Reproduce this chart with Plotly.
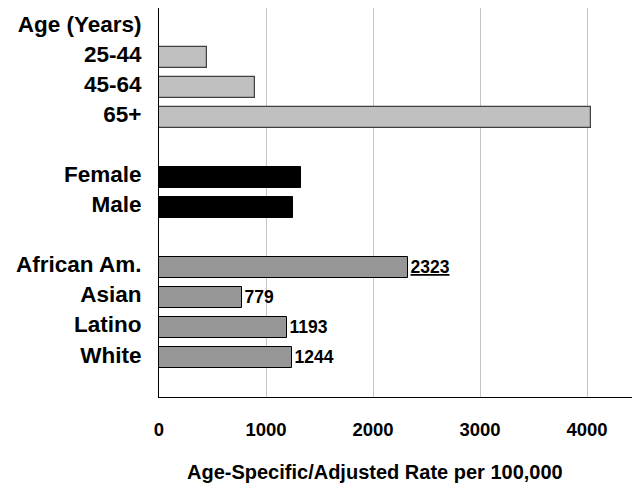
import plotly.graph_objects as go

# Row labels, top to bottom; empty strings are spacer rows
row_labels = ["Age (Years)", "25-44", "45-64", "65+", "",
              "Female", "Male", "",
              "African Am.", "Asian", "Latino", "White"]

age_groups = ["25-44", "45-64", "65+"]
age_rates = [450, 900, 4040]

sex_groups = ["Female", "Male"]
sex_rates = [1330, 1252]

race_groups = ["African Am.", "Asian", "Latino", "White"]
race_rates = [2323, 779, 1193, 1244]
race_text = ["<u>2323</u>", "779", "1193", "1244"]

x_ticks = [0, 1000, 2000, 3000, 4000]

FONT = "Liberation Sans, Arial, sans-serif"


def rows_of(names):
    return [row_labels.index(n) for n in names]


fig = go.Figure()

fig.add_trace(go.Bar(
    orientation="h", y=rows_of(age_groups), x=age_rates, width=0.7,
    marker=dict(color="#C0C0C0", line=dict(color="#404040", width=1.2)),
    showlegend=False, hoverinfo="x",
))
fig.add_trace(go.Bar(
    orientation="h", y=rows_of(sex_groups), x=sex_rates, width=0.7,
    marker=dict(color="#000000", line=dict(color="#000000", width=1)),
    showlegend=False, hoverinfo="x",
))
fig.add_trace(go.Bar(
    orientation="h", y=rows_of(race_groups), x=race_rates, width=0.7,
    marker=dict(color="#969696", line=dict(color="#000000", width=1)),
    text=race_text, textposition="outside", constraintext="none",
    textfont=dict(family=FONT, size=17.5, color="#000000", weight="bold"),
    cliponaxis=False, showlegend=False, hoverinfo="x",
))

# row labels sit slightly above the centre of their bars
label_rows = [i for i, t in enumerate(row_labels) if t]
label_lift = 0.11

fig.update_layout(
    width=632, height=485,
    margin=dict(l=159, r=0, t=8, b=88),
    paper_bgcolor="#FFFFFF", plot_bgcolor="#FFFFFF",
    font=dict(family=FONT, color="#000000"),
    bargap=0,
    xaxis=dict(
        range=[0, 4420], tickvals=x_ticks, ticktext=[str(v) for v in x_ticks],
        showgrid=True, gridcolor="#C4C4C4", gridwidth=1,
        zeroline=False, showline=True, linecolor="#000000", linewidth=1,
        ticks="", ticklabelstandoff=16,
        tickfont=dict(family=FONT, size=18.5, color="#000000", weight="bold"),
    ),
    yaxis=dict(
        range=[12.3, -0.65], tickvals=[i - label_lift for i in label_rows],
        ticktext=[row_labels[i] for i in label_rows],
        showgrid=False, zeroline=False, showline=True,
        linecolor="#000000", linewidth=1,
        ticks="", ticklabelstandoff=12,
        tickfont=dict(family=FONT, size=22.5, color="#000000", weight="bold"),
    ),
    annotations=[dict(
        text="Age-Specific/Adjusted Rate per 100,000",
        xref="paper", yref="paper", x=0.4567, y=-0.192,
        xanchor="center", yanchor="middle", showarrow=False,
        font=dict(family=FONT, size=20, color="#000000", weight="bold"),
    )],
)

fig.write_html("out.html")
